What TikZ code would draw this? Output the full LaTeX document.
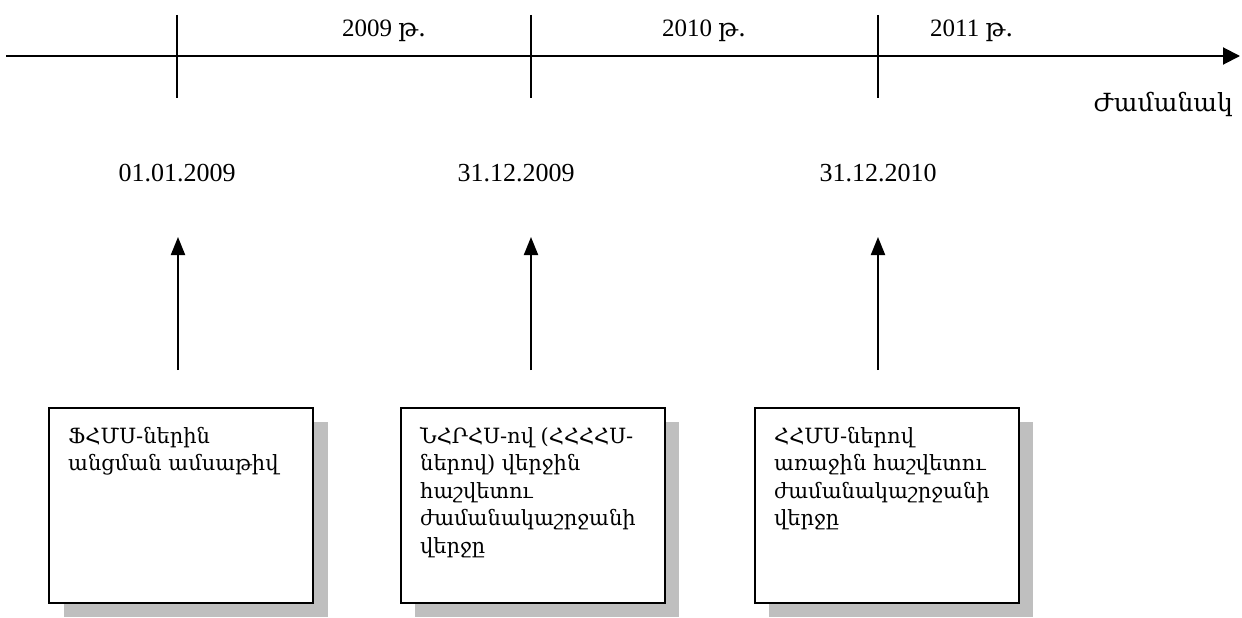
\documentclass[tikz,border=0pt]{standalone}
\usepackage{fontspec}
\setmainfont{Liberation Serif}
\newfontfamily\arm{DejaVu Serif}
\usetikzlibrary{arrows.meta}
\begin{document}
\begin{tikzpicture}[x=1pt,y=-1pt,
  axisline/.style={line width=2pt},
  tickline/.style={line width=1.6pt},
  uparrow/.style={line width=2pt,-{Triangle[length=18pt,width=14pt]}},
  infobox/.style={draw,line width=1.8pt,fill=white,minimum width=264pt,minimum height=195pt,anchor=north west},
  shadowbox/.style={fill=black!25,minimum width=264pt,minimum height=195pt,anchor=north west,inner sep=0pt},
  boxtext/.style={anchor=north west,align=left,inner sep=0pt,font=\arm\fontsize{21}{27.5}\selectfont},
  yearlbl/.style={anchor=base west,inner sep=0pt,font=\fontsize{25}{30}\selectfont},
  datelbl/.style={anchor=base,inner sep=0pt,font=\fontsize{26}{30}\selectfont}]
\useasboundingbox (0,0) rectangle (1242,618);
% axis
\coordinate (axs) at (6,56);
\coordinate (axe) at (1240,56);
\draw[axisline,-{Triangle[length=17pt,width=17pt]}] (axs) -- (axe);
% ticks
\coordinate (t1a) at (177,15); \coordinate (t1b) at (177,98);
\coordinate (t2a) at (531,15); \coordinate (t2b) at (531,98);
\coordinate (t3a) at (878,15); \coordinate (t3b) at (878,98);
\draw[tickline] (t1a) -- (t1b);
\draw[tickline] (t2a) -- (t2b);
\draw[tickline] (t3a) -- (t3b);
% year labels
\node[yearlbl] (y1) at (342,37) {2009 {\arm թ.}};
\node[yearlbl] (y2) at (662,37) {2010 {\arm թ.}};
\node[yearlbl] (y3) at (930,37) {2011 {\arm թ.}};
\node[anchor=base east,inner sep=0pt,font=\arm\fontsize{25}{30}\selectfont] (time) at (1233,111) {Ժամանակ};
% dates
\node[datelbl] (d1) at (177,181) {01.01.2009};
\node[datelbl] (d2) at (516,181) {31.12.2009};
\node[datelbl] (d3) at (878,181) {31.12.2010};
% shadows and boxes
\node[shadowbox] (s1) at (64,422) {};
\node[shadowbox] (s2) at (415,422) {};
\node[shadowbox] (s3) at (769,422) {};
\node[infobox] (b1) at (48,407) {};
\node[infobox] (b2) at (400,407) {};
\node[infobox] (b3) at (754,407) {};
\node[boxtext] (bt1) at (68,427) {ՖՀՄՍ-ներին\\անցման ամսաթիվ};
\node[boxtext] (bt2) at (420,427) {ՆՀՐՀՍ-ով (ՀՀՀՀՍ-\\ներով) վերջին\\հաշվետու\\ժամանակաշրջանի\\վերջը};
\node[boxtext] (bt3) at (774,427) {ՀՀՄՍ-ներով\\առաջին հաշվետու\\ժամանակաշրջանի\\վերջը};
% arrows
\coordinate (a1) at (178,370); \coordinate (a1t) at (178,237);
\coordinate (a2) at (531,370); \coordinate (a2t) at (531,237);
\coordinate (a3) at (878,370); \coordinate (a3t) at (878,237);
\draw[uparrow] (a1) -- (a1t);
\draw[uparrow] (a2) -- (a2t);
\draw[uparrow] (a3) -- (a3t);
\end{tikzpicture}
\end{document}
